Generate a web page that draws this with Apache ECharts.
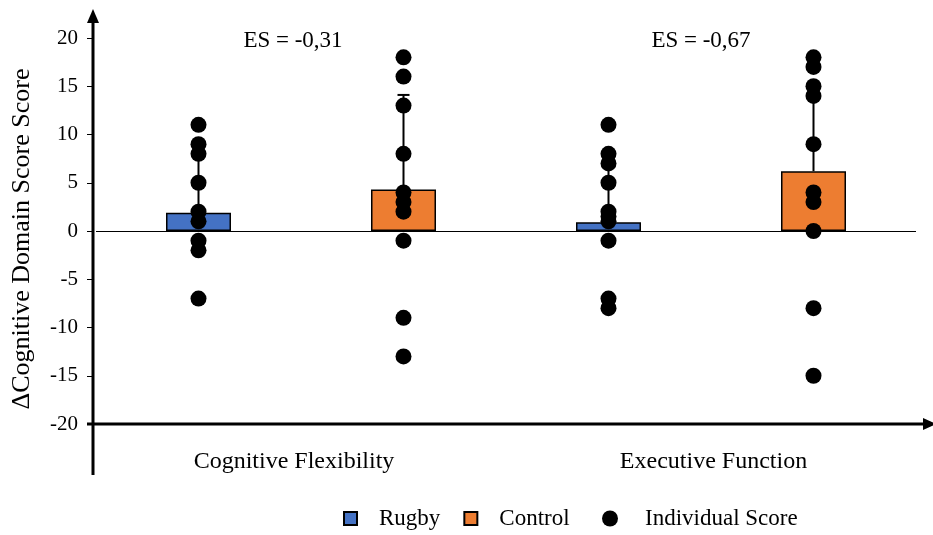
<!DOCTYPE html>
<html>
<head>
<meta charset="utf-8">
<script src="https://cdn.jsdelivr.net/npm/echarts@6/dist/echarts.min.js"></script>
<style>
  html, body { margin: 0; padding: 0; background: #fff; }
  #chart { width: 933px; height: 535px; }
</style>
</head>
<body>
<div id="chart"></div>
<script>
// Change in cognitive domain scores: group means (bars), upper SD whiskers, individual scores (dots)
const categories = ['Cognitive Flexibility', 'Executive Function'];
const groups = ['Rugby', 'Control'];
const rugbyMean = [1.9, 0.9];
const controlMean = [4.3, 6.2];
const rugbyErrTop = [8.0, 7.6];
const controlErrTop = [14.1, 14.0];
const rugbyScores = [
  [11, 9, 8, 5, 2, 1, -1, -2, -7],
  [11, 8, 7, 5, 2, 1.5, 1, -1, -7, -8]
];
const controlScores = [
  [18, 16, 13, 8, 4, 3, 2, -1, -9, -13],
  [18, 17, 15, 14, 9, 4, 3, 0, -8, -15]
];
const effectSizes = ['ES = -0,31', 'ES = -0,67'];
const yMin = -20, yMax = 20, yStep = 5;
const yTitle = '\u0394Cognitive Domain Score Score';

const FONT = "'Liberation Serif', 'Times New Roman', serif";
const BLUE = '#4472C4';
const ORANGE = '#ED7D31';

// Each category gets two slots: Rugby then Control
const slots = [];
categories.forEach(c => groups.forEach(g => slots.push(c + ' / ' + g)));
const slotOf = (ci, gi) => ci * groups.length + gi;

const rugbyBars = slots.map(() => '-');
const controlBars = slots.map(() => '-');
const whiskers = [];
const dots = [];
categories.forEach((c, ci) => {
  rugbyBars[slotOf(ci, 0)] = rugbyMean[ci];
  controlBars[slotOf(ci, 1)] = controlMean[ci];
  whiskers.push([slotOf(ci, 0), rugbyMean[ci], rugbyErrTop[ci]]);
  whiskers.push([slotOf(ci, 1), controlMean[ci], controlErrTop[ci]]);
  rugbyScores[ci].forEach(v => dots.push([slotOf(ci, 0), v]));
  controlScores[ci].forEach(v => dots.push([slotOf(ci, 1), v]));
});

const chart = echarts.init(document.getElementById('chart'), null, { renderer: 'canvas' });

const gridLeft = 96, gridTop = 38, gridRight = 17, gridBottom = 111;
const W = 933, H = 535;
const axisX = 93, axisY = H - gridBottom;

const catLabelStyle = { fontFamily: FONT, fontSize: 24, color: '#000' };

chart.setOption({
  animation: false,
  backgroundColor: '#fff',
  textStyle: { fontFamily: FONT, color: '#000' },
  grid: { left: gridLeft, top: gridTop, right: gridRight, bottom: gridBottom },
  xAxis: [
    {
      type: 'category', data: slots, boundaryGap: true,
      axisLine: { show: false }, axisTick: { show: false }, axisLabel: { show: false },
      splitLine: { show: false }
    },
    {
      type: 'category', data: categories, position: 'bottom', boundaryGap: true,
      axisLine: { show: false }, axisTick: { show: false },
      axisLabel: {
        margin: 26,
        formatter: (v, i) => (i === 0 ? '{a|' + v + '}' : '{b|' + v + '}'),
        rich: {
          a: Object.assign({ padding: [0, 14, 0, 0] }, catLabelStyle),
          b: Object.assign({ padding: [0, 0, 0, 5] }, catLabelStyle)
        }
      },
      splitLine: { show: false }
    }
  ],
  yAxis: {
    type: 'value', min: yMin, max: yMax, interval: yStep, offset: 3,
    axisLine: { show: false },
    axisTick: { show: true, length: 6, lineStyle: { color: '#000', width: 1 } },
    axisLabel: { fontFamily: FONT, fontSize: 21, color: '#000', margin: 15 },
    splitLine: { show: false },
    name: yTitle, nameLocation: 'middle', nameRotate: 90, nameGap: 58,
    nameTextStyle: { fontFamily: FONT, fontSize: 26, color: '#000', padding: [0, 16, 0, 0] }
  },
  legend: [
    {
      data: groups.map(g => ({ name: g, icon: 'rect' })), selectedMode: false,
      left: 343, top: 507, padding: 0,
      itemWidth: 13, itemHeight: 13, itemGap: 23,
      textStyle: { fontFamily: FONT, fontSize: 23, color: '#000', padding: [0, 0, 0, 17] }
    },
    {
      data: [{ name: 'Individual Score', icon: 'circle' }], selectedMode: false,
      left: 602, top: 507, padding: 0,
      itemWidth: 16, itemHeight: 16,
      textStyle: { fontFamily: FONT, fontSize: 23, color: '#000', padding: [0, 0, 0, 22] }
    }
  ],
  series: [
    {
      name: 'Rugby', type: 'bar', data: rugbyBars, barWidth: 65, barGap: '-100%',
      itemStyle: { color: BLUE, borderColor: '#000', borderWidth: 1.5 },
      z: 2,
      markLine: {
        silent: true, symbol: ['none', 'none'], label: { show: false },
        lineStyle: { color: '#000', width: 1, type: 'solid' },
        data: [{ yAxis: 0 }]
      }
    },
    {
      name: 'Control', type: 'bar', data: controlBars, barWidth: 65, barGap: '-100%',
      itemStyle: { color: ORANGE, borderColor: '#000', borderWidth: 1.5 },
      z: 2
    },
    {
      name: 'SD', type: 'custom', data: whiskers, z: 3,
      renderItem: function (params, api) {
        const base = api.coord([api.value(0), api.value(1)]);
        const top = api.coord([api.value(0), api.value(2)]);
        const style = { stroke: '#000', lineWidth: 2 };
        return {
          type: 'group',
          children: [
            { type: 'line', shape: { x1: base[0], y1: base[1], x2: top[0], y2: top[1] }, style: style },
            { type: 'line', shape: { x1: top[0] - 6, y1: top[1], x2: top[0] + 6, y2: top[1] }, style: style }
          ]
        };
      }
    },
    {
      name: 'Individual Score', type: 'scatter', data: dots, symbol: 'circle', symbolSize: 16,
      itemStyle: { color: '#000', opacity: 1 }, z: 4
    }
  ],
  graphic: [
    // vertical axis with arrow
    { type: 'line', shape: { x1: axisX, y1: 475, x2: axisX, y2: 20 }, style: { stroke: '#000', lineWidth: 3 }, z: 10 },
    { type: 'polygon', shape: { points: [[axisX, 9], [axisX - 6, 23], [axisX + 6, 23]] }, style: { fill: '#000' }, z: 10 },
    // horizontal axis with arrow
    { type: 'line', shape: { x1: 87, y1: axisY, x2: 925, y2: axisY }, style: { stroke: '#000', lineWidth: 3 }, z: 10 },
    { type: 'polygon', shape: { points: [[936, axisY], [923, axisY - 6], [923, axisY + 6]] }, style: { fill: '#000' }, z: 10 },
    // effect sizes
    { type: 'text', x: 293, y: 41, style: { text: effectSizes[0], font: '23px ' + FONT, fill: '#000', textAlign: 'center', textVerticalAlign: 'middle' }, z: 10 },
    { type: 'text', x: 701, y: 41, style: { text: effectSizes[1], font: '23px ' + FONT, fill: '#000', textAlign: 'center', textVerticalAlign: 'middle' }, z: 10 }
  ]
});
</script>
</body>
</html>
